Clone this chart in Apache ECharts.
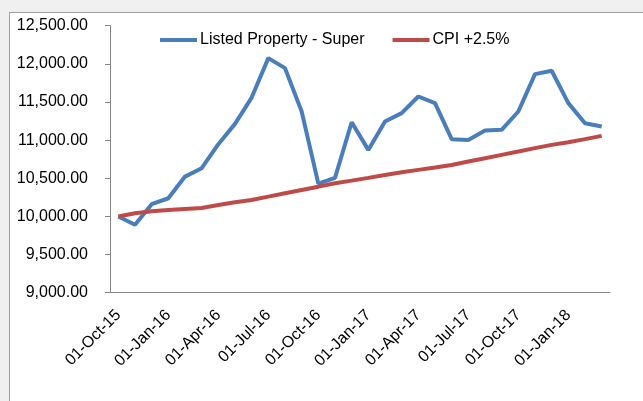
<!DOCTYPE html>
<html>
<head>
<meta charset="utf-8">
<script src="https://cdn.jsdelivr.net/npm/echarts@6/dist/echarts.min.js"></script>
<style>
  html, body { margin: 0; padding: 0; background: #f0f0f0; width: 643px; height: 401px; overflow: hidden; }
  #frame { position: absolute; left: 9px; top: 12px; width: 634px; height: 389px; background: #fff;
           border-left: 1px solid #a0a0a0; border-top: 1px solid #a0a0a0; box-sizing: border-box; }
  #chart { position: absolute; left: 0; top: 0; width: 633px; height: 388px; }
</style>
</head>
<body>
<div id="frame"><div id="chart"></div></div>
<script>
const categories = [
  '01-Oct-15','01-Nov-15','01-Dec-15','01-Jan-16','01-Feb-16','01-Mar-16',
  '01-Apr-16','01-May-16','01-Jun-16','01-Jul-16','01-Aug-16','01-Sep-16',
  '01-Oct-16','01-Nov-16','01-Dec-16','01-Jan-17','01-Feb-17','01-Mar-17',
  '01-Apr-17','01-May-17','01-Jun-17','01-Jul-17','01-Aug-17','01-Sep-17',
  '01-Oct-17','01-Nov-17','01-Dec-17','01-Jan-18','01-Feb-18','01-Mar-18'
];
const listedProperty = [
  10000, 9890, 10160, 10238, 10522, 10632,
  10947, 11213, 11558, 12075, 11944, 11375,
  10430, 10505, 11235, 10872, 11244, 11354,
  11572, 11485, 11013, 11003, 11125, 11135,
  11375, 11865, 11909, 11485, 11222, 11178
];
const cpiPlus = [
  10000, 10042, 10068, 10085, 10098, 10111,
  10150, 10186, 10216, 10259, 10304, 10347,
  10390, 10435, 10469, 10505, 10544, 10579,
  10610, 10640, 10675, 10719, 10763, 10807,
  10850, 10895, 10938, 10973, 11013, 11056
];
const seriesNames = ['Listed Property - Super', 'CPI +2.5%'];

const chart = echarts.init(document.getElementById('chart'), null, { renderer: 'canvas' });
const font = 'Liberation Sans';
chart.setOption({
  animation: false,
  backgroundColor: '#ffffff',
  legend: {
    top: 19, left: 150, padding: 0,
    itemWidth: 37, itemHeight: 4, itemGap: 28,
    icon: 'rect',
    textStyle: { fontFamily: font, fontSize: 16, color: '#000', padding: [0,0,0,-2] },
    data: seriesNames
  },
  grid: { left: 100, right: 33, top: 12.7, bottom: 108.3, containLabel: false },
  xAxis: {
    type: 'category',
    data: categories,
    boundaryGap: true,
    axisLine: { lineStyle: { color: '#868686', width: 1 } },
    axisTick: { interval: 2, length: 5, lineStyle: { color: '#868686' } },
    axisLabel: { interval: 2, rotate: 45, margin: 20, fontFamily: font, fontSize: 16, color: '#000' }
  },
  yAxis: {
    type: 'value',
    min: 9000, max: 12500, interval: 500,
    splitLine: { show: false },
    axisLine: { show: true, lineStyle: { color: '#868686', width: 1 } },
    axisTick: { show: true, length: 5, lineStyle: { color: '#868686' } },
    axisLabel: {
      margin: 22, fontFamily: font, fontSize: 16, color: '#000',
      formatter: v => v.toLocaleString('en-US', { minimumFractionDigits: 2, maximumFractionDigits: 2 })
    }
  },
  series: [
    { name: seriesNames[0], type: 'line', data: listedProperty, symbol: 'none',
      lineStyle: { color: '#4a7ebb', width: 4 }, itemStyle: { color: '#4a7ebb' } },
    { name: seriesNames[1], type: 'line', data: cpiPlus, symbol: 'none',
      lineStyle: { color: '#be4b48', width: 4 }, itemStyle: { color: '#be4b48' } }
  ]
});
</script>
</body>
</html>
